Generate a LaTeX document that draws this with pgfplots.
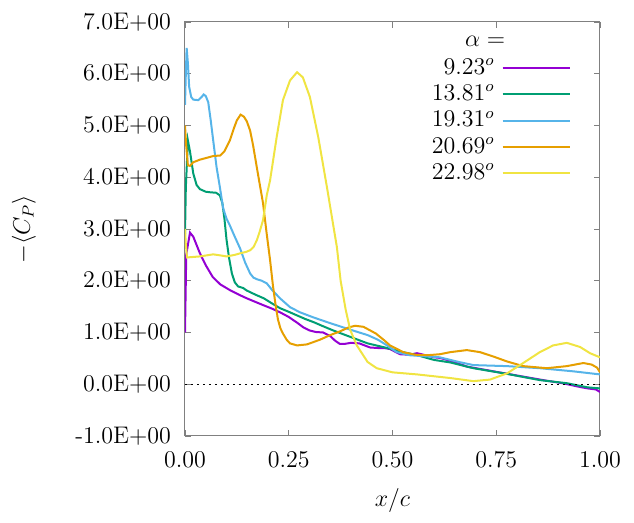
\documentclass[border=0pt]{standalone}
\usepackage{pgfplots}
\pgfplotsset{compat=1.18}
\definecolor{cpurple}{HTML}{9400D3}
\definecolor{cgreen}{HTML}{009E73}
\definecolor{cblue}{HTML}{56B4E9}
\definecolor{corange}{HTML}{E69F00}
\definecolor{cyellow}{HTML}{F0E442}
\begin{document}
\begin{tikzpicture}
\path[use as bounding box] (-92.5pt,-43.5pt) rectangle (224.5pt,218pt);
\begin{axis}[
  scale only axis, width=207.5pt, height=207pt,
  xmin=0, xmax=1, ymin=-1, ymax=7,
  xtick={0,0.25,0.5,0.75,1}, xticklabels={0.00,0.25,0.50,0.75,1.00},
  ytick={-1,0,1,2,3,4,5,6,7},
  yticklabels={-1.0E+00,0.0E+00,1.0E+00,2.0E+00,3.0E+00,4.0E+00,5.0E+00,6.0E+00,7.0E+00},
  tick align=inside, major tick length=3pt,
  axis line style={gray, line width=0.5pt},
  every tick/.style={gray, line width=0.4pt},
  tick label style={font=\large},
  yticklabel style={xshift=-3.5pt},
  xticklabel style={yshift=-4pt},
  every axis x label/.style={at={(axis description cs:0.5,-0.155)}, anchor=center, font=\large},
  every axis y label/.style={at={(axis description cs:-0.388,0.5)}, rotate=90, anchor=center, font=\large},
  xlabel={$x/c$}, ylabel={$-\langle C_P\rangle$},
  legend plot pos=right, legend cell align=right,
  legend image code/.code={\draw[#1] (0pt,0pt) -- (33.5pt,0pt);},
  legend style={draw=none, fill=none, font=\large, at={(axis description cs:0.93,0.922)}, anchor=north east, inner sep=0pt,
    nodes={inner sep=1.5pt, text height=8.2pt, text depth=2pt}, column sep=2pt},
  every axis plot/.append style={line width=1pt},
]
\addplot[cpurple] coordinates {(0,1.0) (0.003,2.5) (0.012,2.93) (0.02,2.85) (0.036,2.53) (0.05,2.3) (0.067,2.07) (0.085,1.93) (0.108,1.82) (0.13,1.73) (0.149,1.66) (0.17,1.59) (0.188,1.53) (0.21,1.46) (0.229,1.39) (0.25,1.30) (0.27,1.19) (0.285,1.10) (0.30,1.04) (0.315,1.01) (0.333,1.0) (0.35,0.93) (0.362,0.84) (0.373,0.78) (0.385,0.78) (0.40,0.80) (0.42,0.79) (0.446,0.71) (0.465,0.70) (0.48,0.70) (0.494,0.68) (0.518,0.58) (0.54,0.57) (0.559,0.60) (0.58,0.56) (0.60,0.52) (0.614,0.51) (0.64,0.45) (0.68,0.34) (0.75,0.24) (0.82,0.14) (0.87,0.07) (0.91,0.02) (0.95,-0.05) (0.97,-0.08) (0.99,-0.10) (1.0,-0.15)};
\addlegendentry{$9.23^o$}
\addplot[cgreen] coordinates {(0,2.9) (0.002,3.8) (0.007,4.71) (0.012,4.5) (0.02,4.07) (0.028,3.85) (0.036,3.77) (0.05,3.72) (0.06,3.71) (0.075,3.70) (0.084,3.65) (0.09,3.5) (0.095,3.2) (0.1,2.8) (0.106,2.45) (0.113,2.14) (0.12,1.97) (0.128,1.89) (0.14,1.86) (0.149,1.81) (0.17,1.73) (0.19,1.66) (0.21,1.56) (0.229,1.47) (0.25,1.40) (0.27,1.33) (0.29,1.26) (0.31,1.20) (0.33,1.13) (0.357,1.04) (0.40,0.91) (0.44,0.79) (0.487,0.70) (0.52,0.63) (0.56,0.56) (0.60,0.47) (0.64,0.42) (0.695,0.31) (0.776,0.20) (0.855,0.08) (0.92,0.02) (0.97,-0.06) (1.0,-0.08)};
\addlegendentry{$13.81^o$}
\addplot[cblue] coordinates {(0,5.4) (0.002,6.0) (0.004,6.5) (0.007,6.2) (0.01,5.75) (0.015,5.55) (0.02,5.5) (0.032,5.49) (0.04,5.55) (0.045,5.6) (0.05,5.57) (0.056,5.45) (0.062,5.1) (0.068,4.71) (0.076,4.2) (0.084,3.81) (0.092,3.4) (0.1,3.2) (0.108,3.07) (0.12,2.85) (0.133,2.62) (0.145,2.35) (0.157,2.14) (0.165,2.06) (0.173,2.03) (0.185,2.0) (0.197,1.95) (0.21,1.82) (0.229,1.66) (0.253,1.49) (0.277,1.39) (0.31,1.29) (0.35,1.18) (0.40,1.05) (0.44,0.95) (0.465,0.86) (0.487,0.75) (0.51,0.62) (0.542,0.56) (0.60,0.53) (0.614,0.52) (0.66,0.43) (0.695,0.37) (0.776,0.35) (0.855,0.31) (0.935,0.25) (1.0,0.19)};
\addlegendentry{$19.31^o$}
\addplot[corange] coordinates {(0,5.0) (0.003,4.6) (0.007,4.23) (0.012,4.22) (0.02,4.29) (0.036,4.34) (0.05,4.37) (0.068,4.41) (0.085,4.42) (0.095,4.5) (0.108,4.71) (0.118,4.95) (0.125,5.1) (0.134,5.21) (0.142,5.17) (0.149,5.08) (0.157,4.9) (0.164,4.62) (0.175,4.1) (0.188,3.5) (0.197,2.9) (0.205,2.4) (0.212,1.9) (0.218,1.55) (0.224,1.25) (0.23,1.08) (0.236,0.98) (0.245,0.86) (0.253,0.79) (0.27,0.75) (0.294,0.77) (0.325,0.86) (0.35,0.95) (0.373,1.02) (0.395,1.10) (0.41,1.13) (0.43,1.11) (0.46,0.98) (0.48,0.85) (0.494,0.75) (0.526,0.62) (0.555,0.57) (0.583,0.56) (0.614,0.58) (0.639,0.62) (0.679,0.66) (0.711,0.62) (0.745,0.53) (0.776,0.44) (0.815,0.35) (0.872,0.31) (0.92,0.35) (0.96,0.41) (0.98,0.38) (0.993,0.32) (1.0,0.23)};
\addlegendentry{$20.69^o$}
\addplot[cyellow] coordinates {(0,3.0) (0.002,2.7) (0.005,2.45) (0.02,2.46) (0.036,2.47) (0.068,2.51) (0.085,2.49) (0.1,2.47) (0.12,2.50) (0.133,2.53) (0.148,2.56) (0.157,2.59) (0.165,2.65) (0.173,2.78) (0.18,2.95) (0.188,3.17) (0.197,3.65) (0.205,3.94) (0.221,4.78) (0.236,5.49) (0.253,5.87) (0.27,6.03) (0.284,5.93) (0.301,5.55) (0.321,4.78) (0.342,3.81) (0.366,2.65) (0.375,2.0) (0.387,1.45) (0.398,1.05) (0.414,0.75) (0.44,0.43) (0.462,0.31) (0.5,0.23) (0.559,0.19) (0.639,0.12) (0.695,0.06) (0.735,0.09) (0.776,0.21) (0.815,0.41) (0.855,0.62) (0.887,0.75) (0.92,0.80) (0.952,0.72) (0.976,0.60) (1.0,0.52)};
\addlegendentry{$22.98^o$}
\addplot[black, dotted, line width=0.6pt, forget plot] coordinates {(0,0) (1,0)};
\node[font=\large] at (axis cs:0.723,6.63) {$\alpha =$};
\end{axis}
\end{tikzpicture}
\end{document}
